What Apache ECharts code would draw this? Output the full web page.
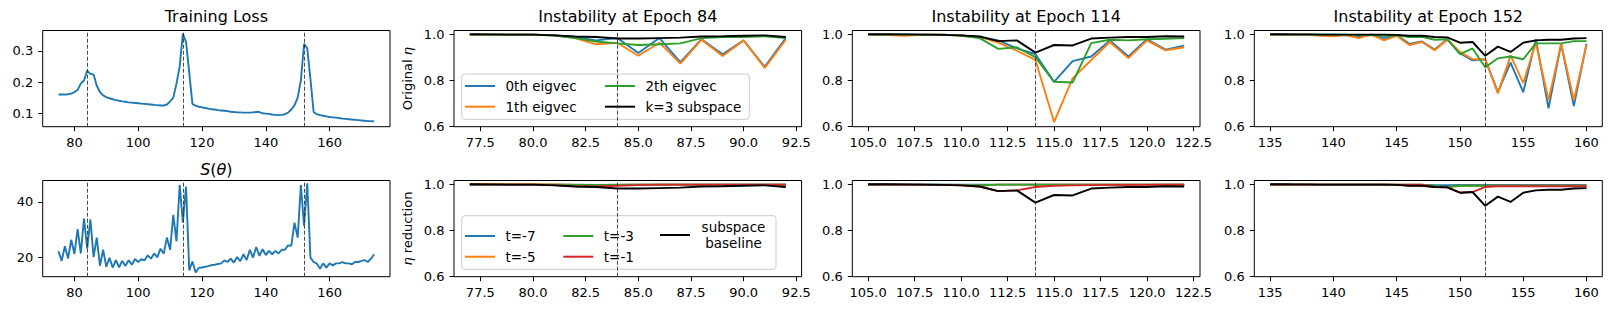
<!DOCTYPE html>
<html><head><meta charset="utf-8">
<script src="https://cdn.jsdelivr.net/npm/echarts@6.0.0/dist/echarts.min.js"></script>
<style>html,body{margin:0;padding:0;background:#fff}#c{width:1611px;height:311px}</style>
</head><body><div id="c"></div><script>
// ---------------- data ----------------
const lossEpochStart = 75;
const lossValues = [
 0.160,0.160,0.160,0.161,0.163,0.168,0.175,0.195,0.205,0.236,
 0.226,0.224,0.188,0.168,0.157,0.152,0.148,0.145,0.142,0.140,
 0.138,0.137,0.135,0.134,0.133,0.132,0.131,0.130,0.129,0.128,
 0.127,0.126,0.125,0.125,0.128,0.138,0.150,0.195,0.250,0.355,
 0.328,0.230,0.130,0.124,0.121,0.119,0.117,0.115,0.113,0.112,
 0.110,0.109,0.108,0.107,0.105,0.104,0.103,0.103,0.102,0.102,
 0.102,0.103,0.104,0.104,0.100,0.099,0.098,0.096,0.095,0.094,
 0.095,0.097,0.102,0.112,0.125,0.150,0.205,0.322,0.308,0.210,
 0.104,0.097,0.094,0.092,0.090,0.088,0.087,0.086,0.085,0.083,
 0.082,0.081,0.080,0.079,0.078,0.077,0.076,0.075,0.075,0.074];
const sharpnessValues = [
 22.2,18.7,24.0,19.6,26.3,21.2,30.2,21.4,34.0,23.1,
 33.7,20.1,27.1,16.9,22.7,16.6,19.8,16.3,19.0,16.4,
 18.7,16.9,18.9,17.3,19.4,18.3,19.3,18.9,20.7,19.5,
 21.4,20.0,23.1,21.3,27.1,22.7,35.3,25.7,46.1,32.5,
 45.5,15.3,18.5,14.5,16.2,16.3,16.6,16.8,17.2,17.3,
 17.6,17.8,18.9,18.3,19.5,18.1,20.1,18.6,21.1,19.0,
 22.7,19.9,23.7,20.5,22.9,20.8,22.3,21.1,22.3,21.4,
 22.7,22.7,24.3,24.1,32.5,27.1,46.1,31.3,46.7,19.9,
 18.3,17.8,15.9,17.8,16.3,17.8,17.1,17.8,17.8,18.3,
 17.8,17.8,17.5,18.3,18.3,18.7,19.0,18.3,19.5,21.1];
const instabilityEpochs = [84, 114, 152];

// Epoch 84 window (77..92)
const e84Start = 77;
const e84Eig0 = [1.0,1.0,1.0,1.0,0.998,0.99,0.975,0.985,0.92,0.985,0.88,0.98,0.915,0.975,0.86,0.985];
const e84Eig1 = [1.0,1.0,1.0,1.0,0.997,0.985,0.958,0.965,0.908,0.965,0.874,0.978,0.907,0.975,0.855,0.978];
const e84Eig2 = [1.0,1.0,1.0,1.0,0.996,0.985,0.97,0.962,0.955,0.958,0.962,0.985,0.99,0.99,0.993,0.985];
const e84Sub  = [1.002,1.001,1.0,1.0,0.997,0.992,0.99,0.983,0.983,0.985,0.987,0.992,0.993,0.995,0.997,0.99];
const e84T7 = [1.0,1.0,1.0,1.0,1.0,0.999,0.998,0.999,1.0,1.0,1.0,1.0,1.0,1.0,1.0,1.0];
const e84T5 = [1.003,1.003,1.002,1.002,1.001,0.999,0.998,0.999,1.0,1.0,1.0,1.0,1.0,1.0,1.0,1.0];
const e84T3 = [1.0,1.0,1.0,1.0,1.0,1.0,0.999,1.0,1.0,1.0,1.0,1.0,1.0,1.0,1.0,1.0];
const e84T1 = [1.0,1.0,1.0,1.0,0.998,0.993,0.992,0.995,0.998,1.0,1.0,1.0,1.0,1.0,1.0,1.0];

// Epoch 114 window (105..122)
const e114Start = 105;
const e114Eig0 = [1.0,1.0,1.0,1.0,1.0,0.997,0.99,0.975,0.94,0.915,0.795,0.885,0.905,0.975,0.905,0.98,0.935,0.952];
const e114Eig1 = [1.0,0.998,0.995,1.0,1.0,0.995,0.99,0.965,0.93,0.89,0.62,0.81,0.89,0.968,0.898,0.975,0.932,0.945];
const e114Eig2 = [1.0,1.0,1.0,1.0,1.0,0.995,0.985,0.938,0.945,0.902,0.795,0.792,0.963,0.978,0.975,0.98,0.982,0.985];
const e114Sub  = [1.002,1.002,1.001,1.0,0.999,0.997,0.992,0.972,0.975,0.922,0.955,0.953,0.983,0.987,0.99,0.99,0.993,0.992];
const e114T7 = [1.0,1.0,1.0,1.0,1.0,1.0,1.0,1.0,1.0,1.0,1.0,1.0,1.0,1.0,1.0,1.0,1.0,1.0];
const e114T5 = [1.001,1.0,0.999,0.999,0.999,0.998,0.995,1.0,1.0,1.0,1.0,1.0,1.0,1.0,1.0,1.0,1.0,1.0];
const e114T3 = [1.0,1.0,1.0,1.0,1.0,0.999,0.996,1.0,1.0,1.0,1.0,1.0,1.0,1.0,1.0,1.0,1.0,1.0];
const e114T1 = [1.0,1.0,1.0,1.0,0.999,0.997,0.992,0.972,0.975,0.99,0.995,0.997,0.998,0.999,0.999,0.999,1.0,1.0];

// Epoch 152 window (135..160)
const e152Start = 135;
const e152Eig0 = [1.0,1.0,1.0,1.0,1.0,1.0,0.997,0.99,1.0,0.985,0.998,0.96,0.97,0.935,0.98,0.92,0.888,0.893,0.75,0.878,0.75,0.98,0.68,0.96,0.69,0.96];
const e152Eig1 = [1.0,1.0,1.0,1.0,0.995,0.993,0.998,0.985,1.0,0.975,0.995,0.955,0.968,0.932,0.978,0.925,0.893,0.893,0.745,0.91,0.79,0.965,0.715,0.96,0.715,0.955];
const e152Eig2 = [1.0,1.0,1.0,1.0,1.0,1.0,1.0,0.998,0.998,0.995,0.997,0.99,0.99,0.978,0.98,0.915,0.94,0.858,0.897,0.905,0.893,0.962,0.962,0.962,0.972,0.972];
const e152Sub  = [1.002,1.002,1.001,1.001,1.0,1.0,1.0,1.0,1.0,1.0,0.999,0.995,0.995,0.99,0.988,0.965,0.968,0.908,0.948,0.925,0.965,0.975,0.978,0.978,0.983,0.985];
const e152T7 = [1.0,1.0,1.0,1.0,1.0,1.0,1.0,1.0,1.0,1.0,0.999,0.999,0.999,0.998,0.998,0.999,0.999,0.999,0.999,0.999,0.999,0.999,0.999,0.999,0.999,0.999];
const e152T5 = [1.0,1.0,1.0,1.0,1.0,1.0,1.0,1.0,1.0,1.0,1.0,0.995,0.995,0.99,0.99,0.995,0.995,0.995,0.995,0.995,0.995,0.995,0.995,0.995,0.995,0.995];
const e152T3 = [1.0,1.0,1.0,1.0,1.0,1.0,1.0,1.0,1.0,1.0,1.0,1.0,1.0,0.995,0.99,0.995,0.995,0.995,0.995,0.995,0.995,0.995,0.995,0.995,0.995,0.995];
const e152T1 = [1.0,1.0,1.0,1.0,1.0,1.0,1.0,1.0,1.0,1.0,1.0,1.0,1.0,0.99,0.988,0.965,0.968,0.99,0.993,0.993,0.993,0.993,0.993,0.993,0.993,0.993];

// tick labels
const ticksLossX = [80,100,120,140,160];
const ticksLossY = [0.1,0.2,0.3];
const ticksSharpY = [20,40];
const ticks84X = [77.5,80,82.5,85,87.5,90,92.5];
const ticks114X = [105,107.5,110,112.5,115,117.5,120,122.5];
const ticks152X = [135,140,145,150,155,160];
const ticksEtaY = [0.6,0.8,1.0];

const names = ['0th eigvec','1th eigvec','2th eigvec','k=3 subspace'];
const tNames = ['t=-7','t=-5','t=-3','t=-1','subspace baseline'];
const C = {blue:'#1f77b4', orange:'#ff7f0e', green:'#2ca02c', red:'#d62728', black:'#000000'};

// ---------------- option building ----------------
const FONT = 'DejaVu Sans';
const pairs = (start, arr) => arr.map((v, i) => [start + i, v]);

const colLeft = [42.7, 454, 852.3, 1254.3];
const colW = [347.3, 347.6, 347.7, 348];
const rowTop = [30.5, 180.5];
const rowH = 96.2;

const grids = [], xAxes = [], yAxes = [], series = [];
const labelStyle = {color:'#000', fontFamily:FONT, fontSize:13};

function addPanel(col, row, xr, xt, xfmt, yr, yt, yfmt, yname) {
  const gi = grids.length;
  grids.push({left:colLeft[col], top:rowTop[row], width:colW[col], height:rowH,
    show:true, borderColor:'#000', borderWidth:1, backgroundColor:'transparent',
    containLabel:false, outerBoundsMode:'none'});
  xAxes.push({type:'value', gridIndex:gi, min:xr[0], max:xr[1],
    axisLine:{show:false}, splitLine:{show:false},
    axisTick:{show:true, length:4.5, lineStyle:{color:'#000', width:1}, customValues:xt},
    axisLabel:Object.assign({margin:9, customValues:xt, formatter:xfmt}, labelStyle)});
  const y = {type:'value', gridIndex:gi, min:yr[0], max:yr[1],
    axisLine:{show:false}, splitLine:{show:false},
    axisTick:{show:true, length:4.5, lineStyle:{color:'#000', width:1}, customValues:yt},
    axisLabel:Object.assign({margin:9.5, customValues:yt, formatter:yfmt}, labelStyle)};
  if (yname) {
    y.name = yname; y.nameLocation = 'middle'; y.nameGap = 40;
    y.nameTextStyle = {color:'#000', fontFamily:FONT, fontSize:13,
      rich:{n:{color:'#000', fontFamily:FONT, fontSize:13}, e:{color:'#000', fontFamily:FONT, fontSize:13, fontStyle:'italic'}}};
  }
  yAxes.push(y);
  return gi;
}

function addLine(gi, name, color, start, arr, vline) {
  const s = {type:'line', name, xAxisIndex:gi, yAxisIndex:gi, data:pairs(start, arr),
    symbol:'none', showSymbol:false, smooth:false, clip:true,
    lineStyle:{color, width:1.9}, itemStyle:{color}, emphasis:{disabled:true}, z:2};
  if (vline) {
    s.markLine = {silent:true, symbol:['none','none'], label:{show:false}, animation:false,
      lineStyle:{color:'#333', width:0.9, type:[4,2]},
      data: vline.map(v => ({xAxis:v}))};
  }
  series.push(s);
}

const f1 = v => v.toFixed(1);
const f0 = v => String(Math.round(v));
const etaRange = [0.6, 1.018];

// Column 0
let g = addPanel(0, 0, [70.05,178.95], ticksLossX, f0, [0.057,0.365], ticksLossY, f1);
addLine(g, 'loss', C.blue, lossEpochStart, lossValues, instabilityEpochs);
g = addPanel(0, 1, [70.05,178.95], ticksLossX, f0, [13.0,47.7], ticksSharpY, f0);
addLine(g, 'sharpness', C.blue, lossEpochStart, sharpnessValues, instabilityEpochs);

// instability panels
const wins = [
  {col:1, start:e84Start, range:[76.25,92.75], ticks:ticks84X, fmt:f1, ep:84,
   top:[e84Eig0,e84Eig1,e84Eig2,e84Sub], bot:[e84T7,e84T5,e84T3,e84T1,e84Sub]},
  {col:2, start:e114Start, range:[104.15,122.85], ticks:ticks114X, fmt:f1, ep:114,
   top:[e114Eig0,e114Eig1,e114Eig2,e114Sub], bot:[e114T7,e114T5,e114T3,e114T1,e114Sub]},
  {col:3, start:e152Start, range:[133.75,161.25], ticks:ticks152X, fmt:f0, ep:152,
   top:[e152Eig0,e152Eig1,e152Eig2,e152Sub], bot:[e152T7,e152T5,e152T3,e152T1,e152Sub]}
];
const topColors = [C.blue, C.orange, C.green, C.black];
const botColors = [C.blue, C.orange, C.green, C.red, C.black];
wins.forEach((w, wi) => {
  let gt = addPanel(w.col, 0, w.range, w.ticks, w.fmt, etaRange, ticksEtaY, f1,
    wi === 0 ? '{n|Original }{e|η}' : null);
  w.top.forEach((arr, k) => addLine(gt, names[k], topColors[k], w.start, arr, k === 0 ? [w.ep] : null));
  let gb = addPanel(w.col, 1, w.range, w.ticks, w.fmt, etaRange, ticksEtaY, f1,
    wi === 0 ? '{e|η}{n| reduction}' : null);
  w.bot.forEach((arr, k) => addLine(gb, tNames[k], botColors[k], w.start, arr, k === 0 ? [w.ep] : null));
});

// legends (one component per entry, laid out like matplotlib's columns)
function legendItem(name, left, cy, twoLine) {
  const lh = twoLine ? 15.5 : 16;
  const h = twoLine ? lh * 2 : lh;
  const l = {data:[name], left:left, top:cy - h / 2, orient:'horizontal', padding:0, itemGap:0,
    icon:'rect', itemWidth:30, itemHeight:2, selectedMode:false, z:5,
    textStyle:{color:'#000', fontFamily:FONT, fontSize:13.5, lineHeight:lh, padding:[0,0,0,5.5]}};
  if (twoLine) {
    l.formatter = () => '{c|subspace}\n{c|baseline}';
    l.textStyle.rich = {c:{width:66, align:'center', color:'#000', fontFamily:FONT, fontSize:13.5, lineHeight:lh}};
  }
  return l;
}
const legends = [
  legendItem('0th eigvec', 465, 86), legendItem('1th eigvec', 465, 106.7),
  legendItem('2th eigvec', 605, 86), legendItem('k=3 subspace', 605, 106.7),
  legendItem('t=-7', 465, 236), legendItem('t=-5', 465, 256.7),
  legendItem('t=-3', 563.3, 236), legendItem('t=-1', 563.3, 256.7),
  legendItem('subspace baseline', 660, 235, true)
];

const titleFont = 16;
const mkTitle = (text, x, y, rich) => ({type:'text', x, y, z:5, silent:true,
  style:{text, fill:'#000', fontFamily:FONT, fontSize:titleFont, align:'center', verticalAlign:'middle', rich}});
const graphic = [
  {type:'rect', z:3, silent:true, shape:{x:461.7, y:74, width:287.6, height:45.3, r:3},
   style:{fill:'rgba(255,255,255,0.8)', stroke:'#cccccc', lineWidth:1}},
  {type:'rect', z:3, silent:true, shape:{x:461.7, y:215.7, width:314.3, height:53.6, r:3},
   style:{fill:'rgba(255,255,255,0.8)', stroke:'#cccccc', lineWidth:1}},
  mkTitle('Training Loss', colLeft[0] + colW[0] / 2, 16),
  mkTitle('{i|S}{u|(}{i|θ}{u|)}', colLeft[0] + colW[0] / 2, 169,
    {i:{fontFamily:FONT, fontSize:titleFont, fontStyle:'italic', fill:'#000'}, u:{fontFamily:FONT, fontSize:titleFont, fill:'#000'}}),
  mkTitle('Instability at Epoch 84', colLeft[1] + colW[1] / 2, 16),
  mkTitle('Instability at Epoch 114', colLeft[2] + colW[2] / 2, 16),
  mkTitle('Instability at Epoch 152', colLeft[3] + colW[3] / 2, 16)
];

const chart = echarts.init(document.getElementById('c'), null, {renderer:'svg'});
chart.setOption({
  animation:false,
  backgroundColor:'#fff',
  grid:grids, xAxis:xAxes, yAxis:yAxes, series,
  legend:legends, graphic
});
</script></body></html>
